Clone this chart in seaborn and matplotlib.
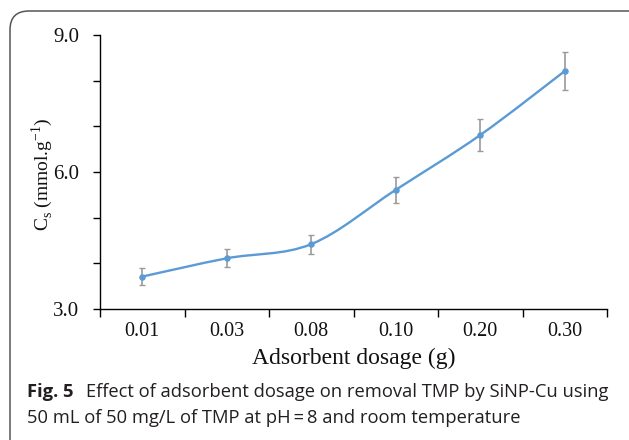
import numpy as np
import pandas as pd
import seaborn as sns
import matplotlib.pyplot as plt
from matplotlib.path import Path
from matplotlib.patches import PathPatch, FancyBboxPatch

# Adsorbent dosage study
dosage_labels = ["0.01", "0.03", "0.08", "0.10", "0.20", "0.30"]
cs_values = [3.71, 4.11, 4.42, 5.61, 6.81, 8.21]
cs_errors = [0.18, 0.20, 0.21, 0.29, 0.34, 0.41]

df = pd.DataFrame({"pos": np.arange(len(dosage_labels)),
                   "dosage": dosage_labels,
                   "cs": cs_values,
                   "err": cs_errors})

sns.set_theme(style="ticks")
plt.rcParams["font.family"] = ["Liberation Serif", "DejaVu Serif"]

W, H = 629, 440
fig = plt.figure(figsize=(W / 100, H / 100), dpi=100)

# rounded frame around figure + caption
frame = FancyBboxPatch((10 / W, -0.2), 1.2, 1.2 - 11 / H,
                       boxstyle="round,pad=0,rounding_size=0.03",
                       transform=fig.transFigure, fill=False,
                       edgecolor="#555555", linewidth=1.1, clip_on=False,
                       mutation_aspect=W / H)
fig.patches.append(frame)

ax = fig.add_axes([100 / W, (H - 309) / H, (607 - 100) / W, (309 - 35) / H])

blue = "#5B9BD5"

# smooth curve through the points (Catmull-Rom converted to cubic Bezier)
pts = df[["pos", "cs"]].to_numpy(dtype=float)
ext = np.vstack([pts[0], pts, pts[-1]])
verts = [tuple(pts[0])]
codes = [Path.MOVETO]
for i in range(1, len(ext) - 2):
    p0, p1, p2, p3 = ext[i - 1], ext[i], ext[i + 1], ext[i + 2]
    c1 = p1 + (p2 - p0) / 6.0
    c2 = p2 - (p3 - p1) / 6.0
    verts += [tuple(c1), tuple(c2), tuple(p2)]
    codes += [Path.CURVE4] * 3
ax.add_patch(PathPatch(Path(verts, codes), fill=False, edgecolor=blue,
                       linewidth=1.7, zorder=3))

ax.errorbar(df["pos"], df["cs"], yerr=df["err"], fmt="none",
            ecolor="#9a9a9a", elinewidth=1.2, capsize=2.5, capthick=1.0,
            zorder=2)
sns.scatterplot(data=df, x="pos", y="cs", ax=ax, color=blue, s=22,
                edgecolor=blue, linewidth=0, zorder=4, legend=False)

ax.set_xlim(-0.5, len(dosage_labels) - 0.5)
ax.set_ylim(3.0, 9.0)

# category boundary ticks, labels centred on categories
ax.set_xticks(np.arange(-0.5, len(dosage_labels)), labels=[""] * (len(dosage_labels) + 1))
ax.set_xticks(np.arange(len(dosage_labels)), labels=dosage_labels, minor=True)
ax.tick_params(axis="x", which="major", length=6, width=1, color="black", direction="out")
ax.tick_params(axis="x", which="minor", length=0, pad=9, labelsize=14.5, labelcolor="#111111")

ax.set_yticks(np.arange(3, 9.01, 1.0))
ax.set_yticklabels(["3.0", "", "", "6.0", "", "", "9.0"])
ax.tick_params(axis="y", length=5, width=1, color="black", direction="out",
               labelsize=15, labelcolor="#111111", pad=10)

for side in ("top", "right"):
    ax.spines[side].set_visible(False)
for side in ("left", "bottom"):
    ax.spines[side].set_color("black")
    ax.spines[side].set_linewidth(1.0)

ax.set_xlabel("Adsorbent dosage (g)", fontsize=17, color="#111111", labelpad=5)
ax.set_ylabel(r"C$_\mathregular{s}$ (mmol.g$^\mathregular{-1}$)", fontsize=14,
              color="#111111", va="center")
ax.yaxis.set_label_coords((42 - 100) / 507, (309 - 174) / 274)

# caption
cap_font = ["Open Sans", "DejaVu Sans"]
cap_color = "#231f20"
cap_size = 13.2
fig.text(27 / W, 1 - 392 / H, "Fig. 5", fontsize=cap_size, fontweight="bold",
         family=cap_font, va="center", ha="left", color=cap_color)
fig.text(86 / W, 1 - 392 / H,
         "Effect of adsorbent dosage on removal TMP by SiNP-Cu using",
         fontsize=cap_size, family=cap_font, va="center", ha="left", color=cap_color)
fig.text(27 / W, 1 - 418 / H,
         "50 mL of 50 mg/L of TMP at pH\u2009=\u20098 and room temperature",
         fontsize=cap_size, family=cap_font, va="center", ha="left", color=cap_color)

fig.savefig("out.png", dpi=100)
